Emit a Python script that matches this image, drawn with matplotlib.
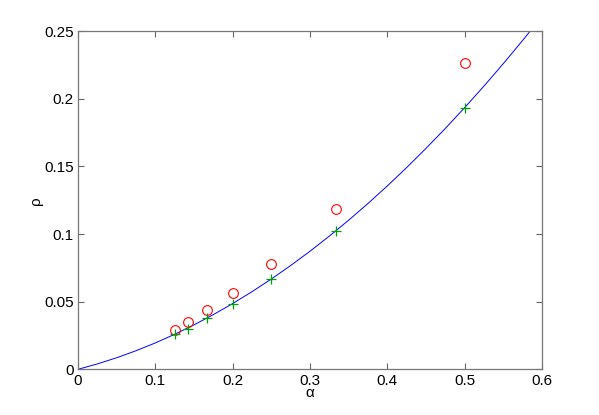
import numpy as np
import matplotlib
matplotlib.use('Agg')
import matplotlib.pyplot as plt

plt.rcParams['font.family'] = ['Liberation Sans', 'DejaVu Sans']
plt.rcParams['font.size'] = 10

# curve rho(alpha)
curve_alpha = [0, 0.025, 0.05, 0.075, 0.1, 0.125, 0.15, 0.175, 0.2, 0.225, 0.25,
               0.275, 0.3, 0.325, 0.35, 0.375, 0.4, 0.425, 0.45, 0.475, 0.5,
               0.525, 0.55, 0.575, 0.6]
curve_rho = [0, 0.00398, 0.00855, 0.01373, 0.0195, 0.02588, 0.03285, 0.04043,
             0.0486, 0.05738, 0.06675, 0.07673, 0.0873, 0.09848, 0.11025,
             0.12263, 0.1356, 0.14918, 0.16335, 0.17813, 0.1935, 0.20948,
             0.22605, 0.24323, 0.2610]

# sample points alpha = 1/8 ... 1/2
alpha = [1/8, 1/7, 1/6, 1/5, 1/4, 1/3, 1/2]
rho_circle = [0.0291, 0.0350, 0.0436, 0.0562, 0.0778, 0.1187, 0.2266]
rho_plus = [0.0259, 0.0298, 0.0379, 0.0483, 0.0667, 0.1022, 0.1930]

fig = plt.figure(figsize=(5.99, 4.15), dpi=100)
ax = fig.add_axes([0.13, 0.11, 0.775, 0.815])

ax.plot(curve_alpha, curve_rho, color='#0000ff', lw=0.7)
ax.plot(alpha, rho_circle, 'o', mfc='none', mec='#ff0000', ms=7, mew=0.8)
ax.plot(alpha, rho_plus, '+', color='#00a000', ms=7, mew=0.9)

ax.set_xlim(0, 0.6)
ax.set_ylim(0, 0.25)
ax.set_xticks([0, 0.1, 0.2, 0.3, 0.4, 0.5, 0.6])
ax.set_xticklabels(['0', '0.1', '0.2', '0.3', '0.4', '0.5', '0.6'])
ax.set_yticks([0, 0.05, 0.1, 0.15, 0.2, 0.25])
ax.set_yticklabels(['0', '0.05', '0.1', '0.15', '0.2', '0.25'])
ax.tick_params(direction='in', top=True, right=True, length=4, width=0.8,
               color='#666666', labelsize=11, pad=3)
for s in ax.spines.values():
    s.set_color('#777777')
    s.set_linewidth(0.9)

ax.set_xlabel('α', fontsize=11, labelpad=-1)
ax.set_ylabel('ρ', fontsize=11, labelpad=1)

fig.savefig('out.png', dpi=100)
